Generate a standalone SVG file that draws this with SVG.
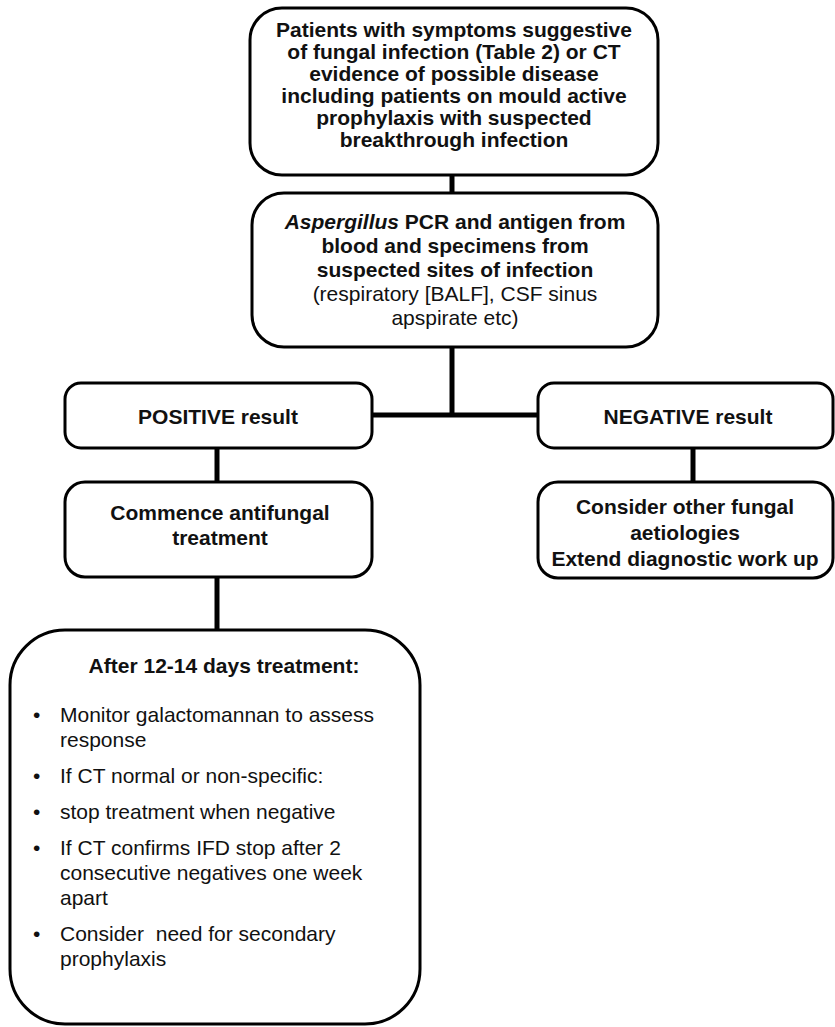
<svg xmlns="http://www.w3.org/2000/svg" width="835" height="1027" viewBox="0 0 835 1027">
<style>
.box{fill:#fff;stroke:#000;stroke-width:3}
.con{stroke:#000;stroke-width:5;fill:none}
.b{font-family:"Liberation Sans",Arial,sans-serif;font-size:21px;font-weight:bold;fill:#111;text-anchor:middle}
.r{font-family:"Liberation Sans",Arial,sans-serif;font-size:21px;fill:#111}
.rc{font-family:"Liberation Sans",Arial,sans-serif;font-size:21px;fill:#111;text-anchor:middle}
</style>
<rect width="835" height="1027" fill="#fff"/>
<g id="connectors">
<line class="con" x1="452" y1="174" x2="452" y2="194"/>
<line class="con" x1="452" y1="346" x2="452" y2="415"/>
<line class="con" x1="371" y1="415" x2="539" y2="415"/>
<line class="con" x1="217" y1="447" x2="217" y2="483"/>
<line class="con" x1="693" y1="447" x2="693" y2="483"/>
<line class="con" x1="217" y1="576" x2="217" y2="631"/>
</g>
<g id="n1">
<rect class="box" x="250" y="8" width="408" height="167" rx="32"/>
<text class="b" x="454"><tspan x="454" y="37">Patients with symptoms suggestive</tspan><tspan x="454" y="59">of fungal infection (Table 2) or CT</tspan><tspan x="454" y="81">evidence of possible disease</tspan><tspan x="454" y="103">including patients on mould active</tspan><tspan x="454" y="125">prophylaxis with suspected</tspan><tspan x="454" y="147">breakthrough infection</tspan></text>
</g>
<g id="n2">
<rect class="box" x="252" y="193" width="406" height="154" rx="32"/>
<text class="b" x="455" y="229"><tspan font-style="italic">Aspergillus</tspan> PCR and antigen from</text>
<text class="b" x="455" y="253">blood and specimens from</text>
<text class="b" x="455" y="277">suspected sites of infection</text>
<text class="rc" x="455" y="301">(respiratory [BALF], CSF sinus</text>
<text class="rc" x="455" y="325">apspirate etc)</text>
</g>
<g id="n3">
<rect class="box" x="65" y="383" width="307" height="65" rx="16"/>
<text class="b" x="218" y="424">POSITIVE result</text>
</g>
<g id="n4">
<rect class="box" x="538" y="383" width="295" height="65" rx="16"/>
<text class="b" x="688" y="424">NEGATIVE result</text>
</g>
<g id="n5">
<rect class="box" x="65" y="482" width="307" height="95" rx="20"/>
<text class="b" x="220" y="520">Commence antifungal</text>
<text class="b" x="220" y="545">treatment</text>
</g>
<g id="n6">
<rect class="box" x="538" y="482" width="295" height="96" rx="20"/>
<text class="b" x="685" y="514">Consider other fungal</text>
<text class="b" x="685" y="540">aetiologies</text>
<text class="b" x="685" y="566">Extend diagnostic work up</text>
</g>
<g id="n7">
<rect class="box" x="10" y="630" width="410" height="394" rx="55"/>
<text class="b" x="224" y="673">After 12-14 days treatment:</text>
<g class="r">
<text x="33" y="722">•</text><text x="60" y="722">Monitor galactomannan to assess</text>
<text x="60" y="747">response</text>
<text x="33" y="783">•</text><text x="60" y="783">If CT normal or non-specific:</text>
<text x="33" y="819">•</text><text x="60" y="819">stop treatment when negative</text>
<text x="33" y="855">•</text><text x="60" y="855">If CT confirms IFD stop after 2</text>
<text x="60" y="880">consecutive negatives one week</text>
<text x="60" y="905">apart</text>
<text x="33" y="941">•</text><text x="60" y="941" xml:space="preserve">Consider  need for secondary</text>
<text x="60" y="966">prophylaxis</text>
</g>
</g>
</svg>
